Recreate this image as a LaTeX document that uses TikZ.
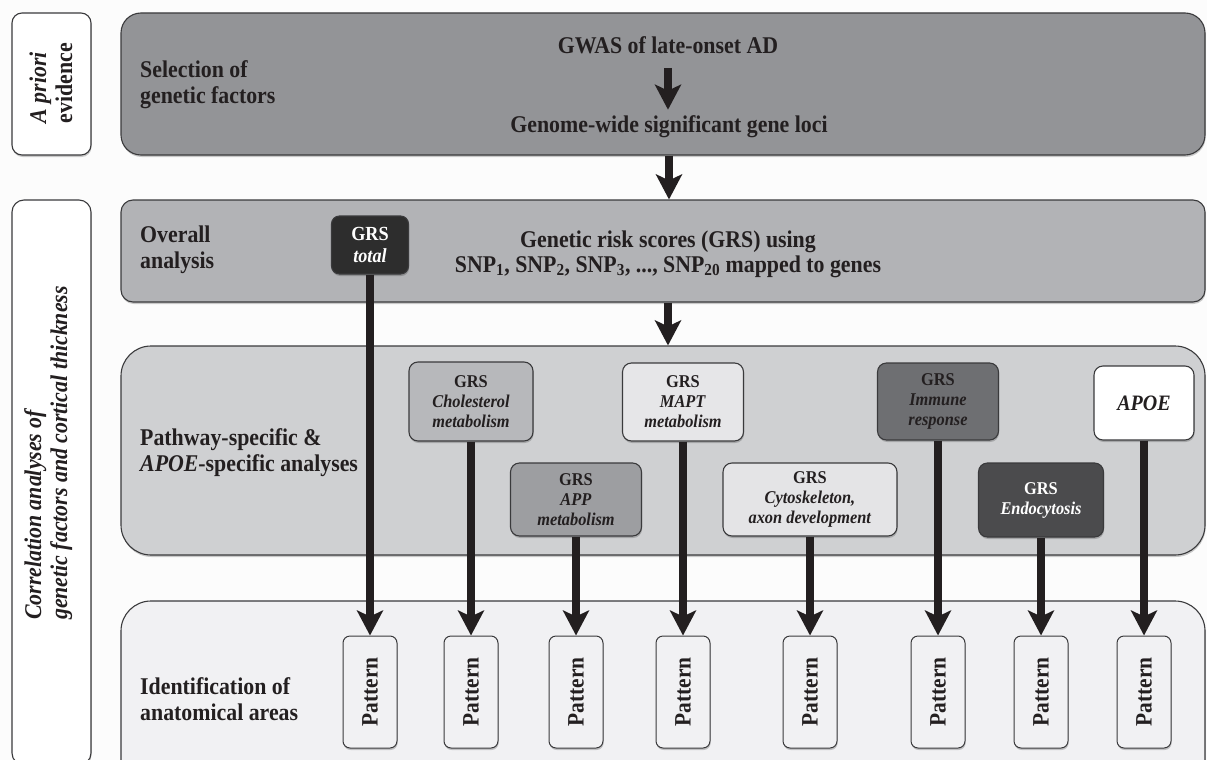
\documentclass[tikz,border=0pt]{standalone}
\usepackage{fontspec}
\setmainfont{Liberation Serif}[FakeStretch=0.91]
\usetikzlibrary{arrows.meta,shadows}

\definecolor{ink}{HTML}{231F20}
\definecolor{edge}{HTML}{3A3A3C}
\definecolor{bg}{HTML}{FCFCFC}
\definecolor{topfill}{HTML}{939497}
\definecolor{overfill}{HTML}{B2B3B6}
\definecolor{pathfill}{HTML}{CFD0D2}
\definecolor{identfill}{HTML}{F1F1F3}
\definecolor{cholfill}{HTML}{B7B8BB}
\definecolor{appfill}{HTML}{9D9EA1}
\definecolor{maptfill}{HTML}{E6E6E8}
\definecolor{cytofill}{HTML}{E4E4E6}
\definecolor{immfill}{HTML}{6E6F72}
\definecolor{endofill}{HTML}{4B4B4D}
\definecolor{grsdark}{HTML}{2D2D2D}

\newcommand{\bigfont}{\fontsize{24}{26}\selectfont\bfseries}
\newcommand{\boxfont}{\fontsize{18}{20}\selectfont\bfseries}

\tikzset{
  softshadow/.style={drop shadow={shadow xshift=0.6pt, shadow yshift=-2pt, opacity=0.2, fill=black}},
  band/.style={draw=edge, line width=1.1pt, inner sep=0pt, softshadow},
  sbox/.style={draw=edge, line width=1.1pt, rounded corners=9pt, inner sep=0pt,
    align=center, font=\boxfont, text=ink, softshadow},
  patt/.style={draw=edge, line width=1pt, rounded corners=7pt, fill=identfill,
    minimum width=54pt, minimum height=112pt, inner sep=0pt,
    font=\fontsize{23.5}{26}\selectfont\bfseries, text=ink, softshadow},
  lbl/.style={anchor=west, align=left, font=\bigfont, text=ink, inner sep=0pt},
  ctext/.style={align=center, font=\bigfont, text=ink, inner sep=0pt},
  bigarrow/.style={draw=ink, line width=8pt, -{Stealth[width=26pt,length=25pt,inset=6pt]}},
}

\begin{document}
\begin{tikzpicture}[x=1pt,y=-1pt]
\useasboundingbox (0,0) rectangle (1207,760);
\clip (0,0) rectangle (1207,760);
\fill[bg] (0,0) rectangle (1207,760);

% side panels
\node[band, fill=white, rounded corners=10pt, minimum width=79pt, minimum height=142pt] (apriori) at (51.5,84) {};
\node[band, fill=white, rounded corners=12pt, minimum width=79pt, minimum height=565pt] (corr) at (51.5,482.5) {};
\node[font=\bigfont, text=ink, inner sep=0pt] (aprioritxt) at (54,83)
  {\rotatebox{90}{\begin{tabular}{@{}l@{}}\textit{A priori}\\evidence\end{tabular}}};
\node[font=\bigfont, text=ink, inner sep=0pt] (corrtxt) at (49,453)
  {\rotatebox{90}{\begin{tabular}{@{}l@{}}\textit{Correlation analyses of}\\\textit{genetic factors and cortical thickness}\end{tabular}}};

% horizontal bands
\node[band, fill=topfill, rounded corners=20pt, minimum width=1084pt, minimum height=142pt] (top) at (663,84) {};
\node[band, fill=overfill, rounded corners=12pt, minimum width=1084pt, minimum height=102pt] (overall) at (663,251) {};
\node[band, fill=pathfill, rounded corners=30pt, minimum width=1084pt, minimum height=209pt] (pathway) at (663,450.5) {};
\node[band, fill=identfill, rounded corners=30pt, minimum width=1084pt, minimum height=190pt] (ident) at (663,696) {};

% band labels
\node[lbl] (toplbl) at (140,85) {Selection of\\genetic factors};
\node[lbl] (overlbl) at (140,250) {Overall\\analysis};
\node[lbl] (pathlbl) at (140,453) {Pathway-specific \&\\\textit{APOE}-specific analyses};
\node[lbl] (identlbl) at (140,699) {Identification of\\anatomical areas};

% top band content
\node[ctext] (gwas) at (668,45) {GWAS of late-onset AD};
\node[ctext] (loci) at (669,127) {Genome-wide significant gene loci};
\draw[bigarrow, shorten <=14pt, shorten >=6pt] (gwas.south) -- (gwas.south |- loci.north);

% overall band content
\node[ctext, font=\fontsize{24}{25}\selectfont\bfseries] (grstext) at (668,254)
  {Genetic risk scores (GRS) using\\SNP\textsubscript{1}, SNP\textsubscript{2}, SNP\textsubscript{3}, ..., SNP\textsubscript{20} mapped to genes};
\node[sbox, fill=grsdark, text=white, rounded corners=8pt, minimum width=77pt, minimum height=58pt,
  font=\fontsize{20}{22}\selectfont\bfseries] (gtot) at (370,245) {GRS\\\textit{total}};

% pathway boxes
\node[sbox, fill=cholfill, minimum width=124pt, minimum height=79pt] (chol) at (471,401.5) {GRS\\\textit{Cholesterol}\\\textit{metabolism}};
\node[sbox, fill=appfill, minimum width=131pt, minimum height=73pt] (app) at (576,499.5) {GRS\\\textit{APP}\\\textit{metabolism}};
\node[sbox, fill=maptfill, minimum width=121pt, minimum height=78pt] (mapt) at (683,402) {GRS\\\textit{MAPT}\\\textit{metabolism}};
\node[sbox, fill=cytofill, minimum width=174pt, minimum height=73pt] (cyto) at (810,499.5) {GRS\\\textit{Cytoskeleton,}\\\textit{axon development}};
\node[sbox, fill=immfill, minimum width=121pt, minimum height=77pt] (immune) at (938,401.5) {GRS\\\textit{Immune}\\\textit{response}};
\node[sbox, fill=endofill, text=white, minimum width=125pt, minimum height=74pt] (endo) at (1041,500) {GRS\\\textit{Endocytosis}};
\node[sbox, fill=white, minimum width=100pt, minimum height=74pt, font=\fontsize{22}{24}\selectfont\bfseries] (apoe) at (1144,403) {\textit{APOE}};

% pattern boxes
\foreach \name/\x in {p1/370, p2/471, p3/576, p4/683, p5/810, p6/938, p7/1041, p8/1144}
  \node[patt] (\name) at (\x,692) {\rotatebox{90}{Pattern}};

% flow between bands
\draw[bigarrow] (loci |- top.south) -- (loci |- overall.north);
\draw[bigarrow] (grstext |- overall.south) -- (grstext |- pathway.north);

% score to pattern connectors
\draw[bigarrow] (gtot.south) -- (p1.north);
\draw[bigarrow] (chol.south) -- (p2.north);
\draw[bigarrow] (app.south) -- (p3.north);
\draw[bigarrow] (mapt.south) -- (p4.north);
\draw[bigarrow] (cyto.south) -- (p5.north);
\draw[bigarrow] (immune.south) -- (p6.north);
\draw[bigarrow] (endo.south) -- (p7.north);
\draw[bigarrow] (apoe.south) -- (p8.north);
\end{tikzpicture}
\end{document}
